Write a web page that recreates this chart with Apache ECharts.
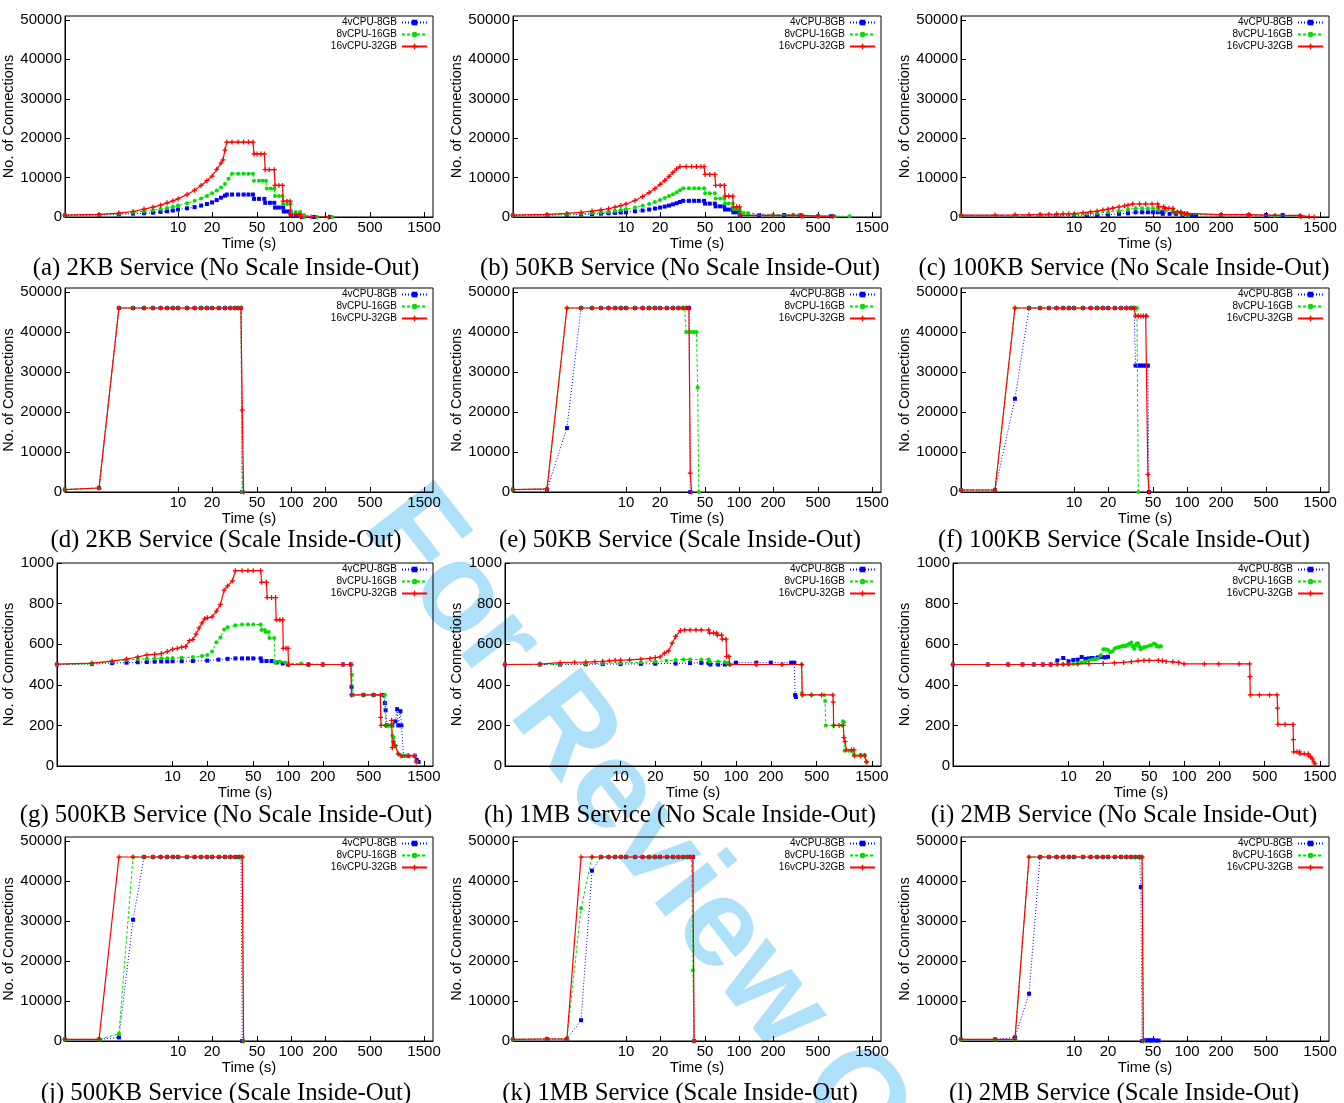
<!DOCTYPE html>
<html>
<head>
<meta charset="utf-8">
<title>No. of Connections over time</title>
<script src="https://cdn.jsdelivr.net/npm/echarts@6/dist/echarts.min.js"></script>
<style>
    html, body { margin: 0; padding: 0; background: #fff; }
    #chart { width: 1344px; height: 1103px; }
</style>
</head>
<body>
<div id="chart"></div>
<script>
// legend names / ticks / captions
var names = ['4vCPU-8GB', '8vCPU-16GB', '16vCPU-32GB'];
var xTicks = [10, 20, 50, 100, 200, 500, 1500];
var yTicksBig = [0, 10000, 20000, 30000, 40000, 50000];
var yTicksSmall = [0, 200, 400, 600, 800, 1000];
var captions = [
    '(a) 2KB Service (No Scale Inside-Out)', '(b) 50KB Service (No Scale Inside-Out)', '(c) 100KB Service (No Scale Inside-Out)',
    '(d) 2KB Service (Scale Inside-Out)', '(e) 50KB Service (Scale Inside-Out)', '(f) 100KB Service (Scale Inside-Out)',
    '(g) 500KB Service (No Scale Inside-Out)', '(h) 1MB Service (No Scale Inside-Out)', '(i) 2MB Service (No Scale Inside-Out)',
    '(j) 500KB Service (Scale Inside-Out)', '(k) 1MB Service (Scale Inside-Out)', '(l) 2MB Service (Scale Inside-Out)'
];

// [time (s), connections]
var aBlue = [[1,400],[2,500],[3,700],[4,850],[5,950],[6,1100],[7,1300],[8,1450],[9,1650],[10,1900],[12,2200],[14,2500],[16,2900],[18,3300],[20,3700],[22,4300],[24,4900],[26,5400],[27,5700],[30,5700],[34,5700],[38,5700],[42,5700],[46,5700],[47,4600],[52,4600],[58,4600],[59,3600],[65,3600],[71,3600],[72,2400],[78,2400],[85,2400],[86,1400],[92,1400],[99,1400],[100,500],[110,500],[120,500],[125,0],[160,0],[220,0]];
var aGreen = [[1,500],[2,600],[3,850],[4,1150],[5,1450],[6,1700],[7,2000],[8,2300],[9,2600],[10,2900],[12,3500],[14,4100],[16,4700],[18,5300],[20,6000],[22,6700],[24,7500],[26,8400],[28,9700],[30,11000],[34,11000],[38,11000],[42,11000],[46,11000],[47,9200],[52,9200],[56,9200],[60,9200],[61,7200],[66,7200],[71,7200],[72,5300],[78,5300],[84,5300],[85,3300],[92,3300],[99,3300],[100,1300],[110,1300],[120,1300],[121,500],[130,500],[131,0],[170,0],[230,0]];
var aRed = [[1,500],[2,650],[3,1000],[4,1400],[5,2000],[6,2500],[7,3000],[8,3600],[9,4100],[10,4600],[12,5700],[14,6800],[16,8000],[18,9200],[20,10400],[22,12100],[24,13700],[25,14500],[26,17000],[27,19000],[30,19000],[34,19000],[38,19000],[42,19000],[46,19000],[47,16000],[50,16000],[54,16000],[58,16000],[59,12000],[64,12000],[71,12000],[72,8000],[78,8000],[84,8000],[85,4000],[92,4000],[98,4000],[99,600],[110,600],[120,600],[121,0],[150,0],[215,0]];

var bBlue = [[1,400],[2,450],[3,550],[4,650],[5,750],[6,850],[7,950],[8,1050],[9,1150],[10,1200],[12,1450],[14,1650],[16,1900],[18,2150],[20,2400],[22,2650],[24,2900],[26,3200],[28,3500],[30,3800],[32,4100],[36,4100],[40,4100],[44,4100],[49,4100],[50,3400],[55,3400],[61,3400],[62,2700],[68,2700],[74,2700],[75,1900],[81,1900],[88,1900],[89,1200],[95,1200],[101,1200],[102,500],[150,500],[250,500],[350,500],[360,200],[500,200],[650,200]];
var bGreen = [[1,500],[2,550],[3,700],[4,850],[5,1000],[6,1150],[7,1350],[8,1550],[9,1750],[10,2000],[12,2400],[14,2850],[16,3300],[18,3800],[20,4300],[22,4800],[24,5300],[26,5800],[28,6300],[30,6800],[32,7300],[36,7300],[40,7300],[44,7300],[49,7300],[50,6000],[55,6000],[61,6000],[62,4700],[68,4700],[74,4700],[75,3400],[81,3400],[88,3400],[89,2000],[95,2000],[101,2000],[102,1000],[110,1000],[120,1000],[121,600],[200,600],[300,600],[350,600],[360,200],[500,200],[700,200],[950,200]];
var bRed = [[1,500],[2,650],[3,900],[4,1200],[5,1500],[6,1800],[7,2100],[8,2500],[9,2900],[10,3300],[12,4200],[14,5200],[16,6200],[18,7200],[20,8300],[22,9300],[24,10300],[26,11300],[28,12200],[30,12800],[34,12800],[38,12800],[42,12800],[46,12800],[49,12800],[50,10800],[55,10800],[61,10800],[62,8000],[68,8000],[74,8000],[75,5300],[81,5300],[88,5300],[89,2600],[95,2600],[101,2600],[102,400],[200,400],[300,400],[350,400],[360,200],[500,200],[680,200]];

var cBlue = [[1,300],[3,300],[5,350],[7,350],[10,400],[13,450],[16,500],[20,600],[25,800],[30,950],[35,1200],[40,1200],[45,1200],[50,1200],[55,1200],[60,1200],[61,800],[70,800],[80,800],[90,800],[91,300],[110,300],[120,500],[200,500],[350,500],[500,500],[700,500]];
var cGreen = [[1,400],[3,400],[5,450],[7,500],[10,550],[13,800],[16,1000],[20,1200],[25,1550],[30,1900],[35,2200],[40,2200],[45,2200],[50,2200],[55,2200],[56,1700],[65,1700],[75,1700],[76,1200],[82,1200],[88,1200],[89,700],[95,700],[100,700],[101,500],[200,500],[350,500],[360,300],[600,300],[1000,300]];
var cRed = [[1,500],[2,500],[3,550],[4,600],[5,650],[6,700],[7,750],[8,800],[9,820],[10,850],[12,1100],[14,1300],[16,1500],[18,1750],[20,2000],[22,2250],[25,2600],[28,2850],[30,3000],[33,3300],[38,3300],[43,3300],[49,3300],[55,3300],[56,2600],[62,2600],[63,2200],[69,2200],[75,2200],[76,1300],[82,1300],[88,1300],[89,900],[95,900],[100,900],[101,600],[200,600],[350,600],[360,400],[600,400],[1000,400],[1010,100],[1200,100],[1330,0]];

var dBlue = [[1,600],[2,1000],[3,46000],[4,46000],[5,46000],[6,46000],[7,46000],[8,46000],[9,46000],[10,46000],[12,46000],[14,46000],[16,46000],[18,46000],[20,46000],[23,46000],[26,46000],[29,46000],[32,46000],[34,46000],[36,46000],[37,0]];
var dGreen = [[1,600],[2,1000],[3,46000],[4,46000],[5,46000],[6,46000],[7,46000],[8,46000],[9,46000],[10,46000],[12,46000],[14,46000],[16,46000],[18,46000],[20,46000],[23,46000],[26,46000],[29,46000],[32,46000],[34,46000],[36,46000],[37,0]];
var dRed = [[1,600],[2,1000],[3,46000],[4,46000],[5,46000],[6,46000],[7,46000],[8,46000],[9,46000],[10,46000],[12,46000],[14,46000],[16,46000],[18,46000],[20,46000],[23,46000],[26,46000],[29,46000],[32,46000],[34,46000],[36,46000],[37,20500],[38,0]];

var eBlue = [[1,600],[2,600],[3,16000],[4,46000],[5,46000],[6,46000],[7,46000],[8,46000],[9,46000],[10,46000],[12,46000],[14,46000],[16,46000],[18,46000],[20,46000],[23,46000],[26,46000],[29,46000],[32,46000],[34,46000],[36,46000],[37,0]];
var eGreen = [[1,600],[2,800],[3,46000],[4,46000],[5,46000],[6,46000],[7,46000],[8,46000],[9,46000],[10,46000],[12,46000],[14,46000],[16,46000],[18,46000],[20,46000],[23,46000],[26,46000],[29,46000],[31,46000],[33,46000],[34,40000],[36,40000],[38,40000],[40,40000],[42,40000],[43,26200],[44,0]];
var eRed = [[1,600],[2,800],[3,46000],[4,46000],[5,46000],[6,46000],[7,46000],[8,46000],[9,46000],[10,46000],[12,46000],[14,46000],[16,46000],[18,46000],[20,46000],[23,46000],[26,46000],[29,46000],[32,46000],[34,46000],[36,46000],[37,4700],[38,0]];

var fBlue = [[1,500],[2,500],[3,23300],[4,46000],[5,46000],[6,46000],[7,46000],[8,46000],[9,46000],[10,46000],[12,46000],[14,46000],[16,46000],[18,46000],[20,46000],[23,46000],[26,46000],[29,46000],[32,46000],[34,46000],[35,31600],[37,31600],[39,31600],[41,31600],[43,31600],[45,31600],[46,0]];
var fGreen = [[1,500],[2,500],[3,46000],[4,46000],[5,46000],[6,46000],[7,46000],[8,46000],[9,46000],[10,46000],[12,46000],[14,46000],[16,46000],[18,46000],[20,46000],[23,46000],[26,46000],[29,46000],[32,46000],[34,46000],[36,46000],[37,0]];
var fRed = [[1,500],[2,500],[3,46000],[4,46000],[5,46000],[6,46000],[7,46000],[8,46000],[9,46000],[10,46000],[12,46000],[14,46000],[16,46000],[18,46000],[20,46000],[23,46000],[26,46000],[29,46000],[32,46000],[34,46000],[35,44000],[37,44000],[39,44000],[41,44000],[43,44000],[44,44000],[45,4400],[46,0]];

var gBlue = [[1,500],[2,502],[3,507],[4,509],[5,511],[6,512],[7,514],[8,515],[9,515],[10,516],[12,516],[15,517],[20,519],[25,524],[30,528],[35,530],[40,530],[45,530],[50,530],[58,530],[59,517],[65,517],[72,517],[80,510],[90,505],[100,500],[150,500],[200,500],[300,500],[350,500],[355,390],[360,350],[450,350],[550,350],[670,350],[690,310],[700,275],[720,200],[800,200],[850,220],[880,280],[900,200],[940,270],[960,200],[1000,50],[1100,50],[1250,50],[1300,30],[1350,20]];
var gGreen = [[1,500],[2,504],[3,515],[4,522],[5,527],[6,528],[7,530],[8,531],[9,531],[10,532],[12,533],[15,537],[18,542],[20,547],[22,564],[24,610],[26,633],[28,672],[30,683],[35,693],[40,697],[45,697],[50,697],[58,697],[59,670],[63,670],[64,660],[68,660],[69,630],[76,630],[77,510],[85,515],[95,510],[100,505],[130,505],[200,500],[300,500],[355,500],[358,450],[362,350],[450,350],[550,350],[690,350],[700,200],[750,200],[790,200],[800,150],[820,140],[850,100],[900,60],[1000,50],[1100,50],[1250,50],[1300,20]];
var gRed = [[1,502],[2,507],[3,517],[4,527],[5,537],[6,547],[7,550],[8,554],[9,564],[10,575],[11,580],[12,585],[13,588],[14,617],[15,623],[16,650],[17,680],[18,705],[19,725],[20,730],[22,735],[24,763],[26,796],[28,866],[30,887],[33,912],[35,962],[40,962],[45,962],[50,962],[58,962],[59,905],[65,905],[66,830],[72,830],[78,830],[79,720],[85,720],[90,720],[91,580],[96,580],[100,580],[101,500],[150,500],[200,500],[300,500],[350,500],[355,350],[450,350],[550,350],[630,350],[634,240],[640,200],[700,200],[785,200],[790,225],[800,90],[820,120],[850,100],[900,60],[950,50],[1100,50],[1250,50],[1290,20]];

var hBlue = [[1,500],[2,500],[3,500],[5,501],[7,502],[10,502],[15,503],[20,504],[30,505],[40,507],[50,508],[58,507],[60,500],[70,500],[80,500],[85,505],[100,509],[150,509],[200,509],[300,509],[320,509],[325,350],[330,340]];
var hGreen = [[1,500],[2,500],[3,502],[5,504],[7,506],[10,508],[15,511],[20,515],[25,519],[30,522],[35,525],[40,525],[50,525],[58,525],[59,515],[70,515],[80,512],[85,505],[90,500],[150,500],[250,500],[370,500],[372,360],[375,350],[450,350],[580,350],[590,320],[600,200],[700,200],[830,200],[840,220],[860,215],[870,75],[950,75],[1000,75],[1050,55],[1200,55],[1300,55],[1350,20]];
var hRed = [[1,500],[2,502],[3,509],[4,511],[5,512],[6,514],[7,516],[8,518],[9,520],[10,521],[12,523],[15,526],[18,530],[20,534],[22,537],[24,556],[26,567],[28,605],[30,638],[33,667],[36,670],[40,670],[45,670],[50,670],[58,670],[59,655],[64,655],[68,655],[69,645],[75,645],[76,625],[82,625],[83,540],[87,540],[88,500],[150,500],[250,500],[370,500],[375,350],[450,350],[550,350],[690,350],[695,315],[700,200],[780,200],[850,200],[860,140],[880,120],[900,80],[1000,80],[1050,80],[1060,50],[1200,50],[1300,50],[1350,20]];

var iBlue = [[1,500],[2,500],[3,500],[4,500],[5,500],[6,500],[7,500],[8,520],[9,532],[10,516],[11,522],[12,524],[13,537],[14,528],[15,530],[16,532],[17,530],[18,535],[19,537],[20,536],[21,535],[22,538]];
var iGreen = [[1,500],[2,500],[3,500],[4,500],[5,500],[6,500],[7,500],[8,500],[9,500],[10,500],[11,502],[12,505],[13,510],[14,515],[15,520],[16,525],[17,527],[18,530],[19,545],[20,575],[21,575],[22,572],[23,560],[24,565],[25,578],[26,582],[27,585],[28,587],[29,590],[30,592],[31,590],[32,595],[33,598],[34,603],[35,608],[36,590],[37,578],[38,595],[39,603],[40,605],[41,590],[42,575],[43,580],[44,582],[45,585],[47,588],[50,592],[52,595],[55,603],[57,598],[58,590],[60,587],[62,590],[63,590]];
var iRed = [[1,500],[2,500],[3,500],[4,500],[5,500],[6,500],[7,500],[8,501],[9,501],[10,502],[12,503],[15,504],[20,505],[25,508],[30,510],[35,514],[40,518],[45,520],[50,520],[60,520],[65,518],[70,515],[80,513],[90,510],[100,503],[150,503],[200,503],[300,503],[370,503],[372,440],[375,350],[450,350],[550,350],[640,350],[645,285],[650,205],[750,205],[880,205],[885,130],[890,70],[950,70],[1000,70],[1010,60],[1100,60],[1190,60],[1200,50],[1250,45],[1290,35],[1330,20],[1360,10]];

var jBlue = [[1,400],[2,400],[3,900],[4,30300],[5,46000],[6,46000],[7,46000],[8,46000],[9,46000],[10,46000],[12,46000],[14,46000],[16,46000],[18,46000],[20,46000],[23,46000],[26,46000],[29,46000],[32,46000],[34,46000],[36,46000],[37,0]];
var jGreen = [[1,400],[2,400],[3,1800],[4,46000],[5,46000],[6,46000],[7,46000],[8,46000],[9,46000],[10,46000],[12,46000],[14,46000],[16,46000],[18,46000],[20,46000],[23,46000],[26,46000],[29,46000],[32,46000],[35,46000],[37,46000],[38,0]];
var jRed = [[1,400],[2,400],[3,46000],[4,46000],[5,46000],[6,46000],[7,46000],[8,46000],[9,46000],[10,46000],[12,46000],[14,46000],[16,46000],[18,46000],[20,46000],[23,46000],[26,46000],[29,46000],[32,46000],[35,46000],[37,46000],[38,0]];

var kBlue = [[1,400],[2,500],[3,500],[4,5200],[5,42600],[6,46000],[7,46000],[8,46000],[9,46000],[10,46000],[12,46000],[14,46000],[16,46000],[18,46000],[20,46000],[23,46000],[26,46000],[29,46000],[32,46000],[35,46000],[37,46000],[39,46000],[40,0]];
var kGreen = [[1,400],[2,500],[3,500],[4,33200],[5,46000],[6,46000],[7,46000],[8,46000],[9,46000],[10,46000],[12,46000],[14,46000],[16,46000],[18,46000],[20,46000],[23,46000],[26,46000],[29,46000],[32,46000],[35,46000],[38,46000],[39,17700],[40,0]];
var kRed = [[1,400],[2,500],[3,500],[4,46000],[5,46000],[6,46000],[7,46000],[8,46000],[9,46000],[10,46000],[12,46000],[14,46000],[16,46000],[18,46000],[20,46000],[23,46000],[26,46000],[29,46000],[32,46000],[35,46000],[37,46000],[39,46000],[40,0]];

var lBlue = [[1,400],[2,400],[3,900],[4,11800],[5,46000],[6,46000],[7,46000],[8,46000],[9,46000],[10,46000],[12,46000],[14,46000],[16,46000],[18,46000],[20,46000],[23,46000],[26,46000],[29,46000],[32,46000],[35,46000],[38,46000],[39,38500],[40,0],[42,200],[44,100],[46,200],[48,100],[50,200],[53,100],[56,100]];
var lGreen = [[1,400],[2,400],[3,400],[4,46000],[5,46000],[6,46000],[7,46000],[8,46000],[9,46000],[10,46000],[12,46000],[14,46000],[16,46000],[18,46000],[20,46000],[23,46000],[26,46000],[29,46000],[32,46000],[35,46000],[38,46000],[40,46000],[41,0]];
var lRed = [[1,400],[2,400],[3,400],[4,46000],[5,46000],[6,46000],[7,46000],[8,46000],[9,46000],[10,46000],[12,46000],[14,46000],[16,46000],[18,46000],[20,46000],[23,46000],[26,46000],[29,46000],[32,46000],[35,46000],[38,46000],[40,46000],[41,0]];

var panelData = [
    [aBlue, aGreen, aRed], [bBlue, bGreen, bRed], [cBlue, cGreen, cRed],
    [dBlue, dGreen, dRed], [eBlue, eGreen, eRed], [fBlue, fGreen, fRed],
    [gBlue, gGreen, gRed], [hBlue, hGreen, hRed], [iBlue, iGreen, iRed],
    [jBlue, jGreen, jRed], [kBlue, kGreen, kRed], [lBlue, lGreen, lRed]
];
</script>
<script>
// layout (pixels)
var colLeft = [65, 513, 961];
var colLeftSmall = [57, 505, 953];   // row with 0..1000 axis
var colRight = [433, 881, 1329];
var rowTop = [16, 288, 563, 837];
var rowBottom = [217, 492, 766, 1041];
var capX = [226, 680, 1124];
var capY = [268, 540, 815, 1093];

var font = '"Liberation Sans", Arial, sans-serif';
var colors = ['#0000ff', '#00e000', '#ff0000'];
var symbols = ['rect', 'circle', 'path://M3,0H5V3H8V5H5V8H3V5H0V3H3Z'];
var symbolSizes = [4, 4, 5];
var lineTypes = [[1, 2], [3, 2], 'solid'];
var lineWidths = [1, 1, 1.2];

var grids = [], xAxes = [], yAxes = [], series = [], legends = [], graphics = [];

panelData.forEach(function (sets, i) {
    var row = Math.floor(i / 3), col = i % 3;
    var small = (row === 2);
    var left = small ? colLeftSmall[col] : colLeft[col];
    var right = colRight[col];
    var top = rowTop[row], bottom = rowBottom[row];

    grids.push({
        left: left, top: top, width: right - left, height: bottom - top,
        show: true, borderColor: '#000', borderWidth: 1, backgroundColor: 'transparent'
    });

    xAxes.push({
        gridIndex: i, type: 'log', logBase: 10, min: 1, max: 1800,
        name: 'Time (s)', nameLocation: 'middle', nameGap: 16,
        nameTextStyle: { fontFamily: font, fontSize: 15, color: '#000' },
        axisLine: { show: true, lineStyle: { color: '#000', width: 1 } },
        axisTick: { show: true, inside: true, length: 5, customValues: xTicks, lineStyle: { color: '#000' } },
        minorTick: { show: false },
        splitLine: { show: false },
        axisLabel: {
            customValues: xTicks, margin: 3, fontFamily: font, fontSize: 15, color: '#000',
            formatter: function (v) { return String(Math.round(v)); }
        }
    });

    var yt = small ? yTicksSmall : yTicksBig;
    yAxes.push({
        gridIndex: i, type: 'value', min: 0, max: small ? 1000 : 51000,
        name: 'No. of Connections', nameLocation: 'middle', nameGap: small ? 35 : 43,
        nameTextStyle: { fontFamily: font, fontSize: 14.5, color: '#000' },
        axisLine: { show: true, lineStyle: { color: '#000', width: 1 } },
        axisTick: { show: true, inside: true, length: 5, customValues: yt, lineStyle: { color: '#000' } },
        splitLine: { show: false },
        axisLabel: {
            customValues: yt, margin: 3, fontFamily: font, fontSize: 15, color: '#000',
            formatter: function (v) { return String(v); }
        }
    });

    sets.forEach(function (d, j) {
        series.push({
            type: 'line', name: names[j], xAxisIndex: i, yAxisIndex: i, data: d,
            symbol: symbols[j], symbolSize: symbolSizes[j], showSymbol: true,
            itemStyle: { color: colors[j] },
            lineStyle: { color: colors[j], width: lineWidths[j], type: lineTypes[j] },
            animation: false, z: 2 + j
        });
    });

    legends.push({
        data: names, orient: 'vertical', align: 'right',
        right: 1344 - (right - 5), top: top + 1, padding: 0,
        itemWidth: 25, itemHeight: 7, itemGap: 1, selectedMode: false,
        textStyle: { fontFamily: font, fontSize: 10, color: '#000', lineHeight: 11 }
    });

    graphics.push({
        type: 'text', x: capX[col], y: capY[row], silent: true,
        style: {
            text: captions[i], textAlign: 'center', textVerticalAlign: 'middle',
            font: '24.8px "Liberation Serif", "Times New Roman", serif', fill: '#000'
        }
    });
});

// review watermark
graphics.push({
    type: 'text', x: 388, y: 505, rotation: -52 * Math.PI / 180, z: -10, silent: true,
    style: {
        text: 'For Review Only', textVerticalAlign: 'middle',
        font: 'bold 126px "Liberation Sans", Arial, sans-serif', fill: '#aee0fa'
    }
});

var chart = echarts.init(document.getElementById('chart'), null, { renderer: 'canvas' });
chart.setOption({
    animation: false,
    backgroundColor: '#fff',
    grid: grids,
    xAxis: xAxes,
    yAxis: yAxes,
    legend: legends,
    graphic: { elements: graphics },
    series: series
});
</script>
</body>
</html>
